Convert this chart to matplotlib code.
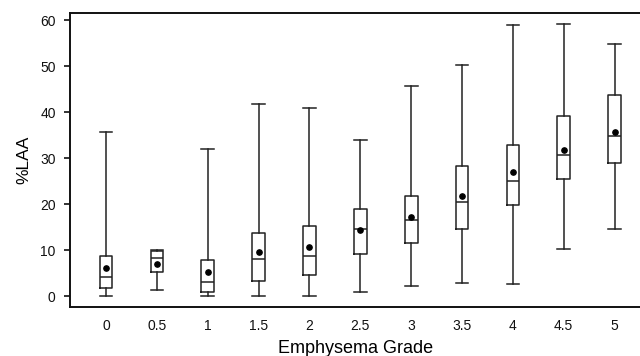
import matplotlib
matplotlib.use("Agg")
import matplotlib.pyplot as plt

plt.rcParams['font.family'] = ['Liberation Sans', 'DejaVu Sans']

grades = [0, 0.5, 1, 1.5, 2, 2.5, 3, 3.5, 4, 4.5, 5]
grade_labels = ["0", "0.5", "1", "1.5", "2", "2.5", "3", "3.5", "4", "4.5", "5"]
whisker_low = [0.1, 1.4, 0.1, 0.1, 0.1, 0.9, 2.2, 3.0, 2.7, 10.3, 14.6]
q1 = [1.8, 5.3, 0.9, 3.3, 4.6, 9.3, 11.5, 14.6, 19.8, 25.4, 28.9]
median = [4.2, 8.4, 3.2, 8.1, 8.7, 14.6, 16.6, 20.5, 25.1, 30.7, 34.9]
q3 = [8.7, 9.9, 8.0, 13.8, 15.3, 19.0, 21.9, 28.3, 32.9, 39.2, 43.7]
whisker_high = [35.8, 10.0, 32.0, 41.7, 41.0, 33.9, 45.6, 50.3, 59.0, 59.2, 54.8]
mean = [6.2, 7.0, 5.35, 9.6, 10.7, 14.4, 17.3, 21.9, 27.1, 31.9, 35.8]
yticks = [0, 10, 20, 30, 40, 50, 60]

stats = []
for i in range(len(grades)):
    stats.append(dict(whislo=whisker_low[i], q1=q1[i], med=median[i], q3=q3[i],
                      whishi=whisker_high[i], mean=mean[i], fliers=[]))

fig = plt.figure(figsize=(6.4, 3.56), dpi=100)
ax = fig.add_axes([70/640, (356-307)/356, 1 - 70/640 + 0.001, (307-13.3)/356])

lc = '#222222'
ax.bxp(stats, positions=grades, widths=0.125, capwidths=0.125,
       showmeans=True, showfliers=False, patch_artist=False,
       boxprops=dict(color=lc, linewidth=1.1),
       medianprops=dict(color=lc, linewidth=1.1),
       whiskerprops=dict(color=lc, linewidth=1.1),
       capprops=dict(color=lc, linewidth=1.1),
       meanprops=dict(marker='o', markerfacecolor='black', markeredgecolor='black',
                      markersize=3.8))

ax.set_xlim(-0.354, 5.256)
ax.set_ylim(-2.3, 61.5)
ax.set_xticks(grades)
ax.set_xticklabels(grade_labels)
ax.set_yticks(yticks)
ax.tick_params(axis='x', length=0, pad=8.5, labelsize=10, colors='#111111')
ax.tick_params(axis='y', length=4.3, width=1.2, pad=6, labelsize=10, colors='#111111')
ax.spines['right'].set_visible(False)
for s in ['left', 'top', 'bottom']:
    ax.spines[s].set_linewidth(1.4)
    ax.spines[s].set_color('#111111')

ax.set_xlabel("Emphysema Grade", fontsize=13, labelpad=5)
ax.set_ylabel("%LAA", fontsize=12.5, labelpad=6.5)

fig.savefig("out.png", dpi=100)
